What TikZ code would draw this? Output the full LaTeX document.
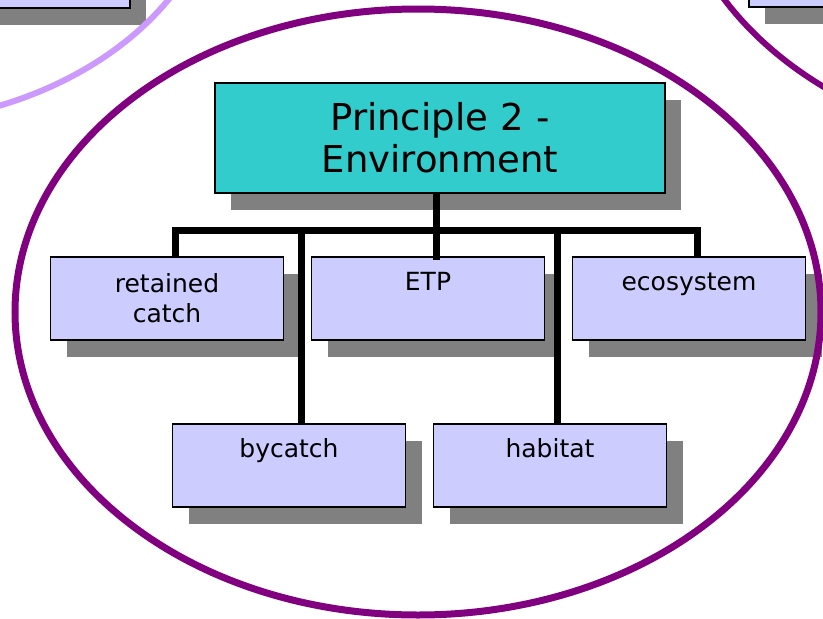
\documentclass[tikz,border=0pt]{standalone}
\usepackage{fontspec}
\setmainfont{DejaVu Sans}
\usetikzlibrary{shadows}
\definecolor{princfill}{HTML}{33CCCC}
\definecolor{critfill}{HTML}{CCCCFF}
\definecolor{shade}{HTML}{808080}
\definecolor{plum}{HTML}{800080}
\definecolor{lilac}{HTML}{CC99FF}
\tikzset{
  flatshadow/.style={drop shadow={shadow xshift=16pt,shadow yshift=-17pt,fill=shade,opacity=1}},
  princ/.style={draw=black,line width=1.5pt,fill=princfill,flatshadow,text width=430pt,align=center,
    inner xsep=10pt,minimum height=110pt,font=\fontsize{37}{42}\selectfont},
  crit/.style={draw=black,line width=1.5pt,fill=critfill,flatshadow,text width=213pt,align=center,
    inner xsep=10pt,inner ysep=4pt,minimum height=83pt,font=\fontsize{25}{30}\selectfont},
  oneline/.style={text height=19pt,text depth=36pt},
  conn/.style={line width=7pt,black},
}
\begin{document}
\begin{tikzpicture}[x=1pt,y=-1pt,line join=miter]
  \useasboundingbox (0,0) rectangle (823,619);
  % neighbouring principles
  \node[crit] (prev) at (13.5,-33.5) {};
  \node[crit] (next) at (865.5,-34.5) {};
  \draw[lilac,line width=6pt] (-129,-139) ellipse [x radius=350pt,y radius=263pt];
  \draw[plum,line width=6pt] (1075,-150) ellipse [x radius=403pt,y radius=303pt];
  % principle 2
  \node[princ] (main) at (440,138) {Principle 2 -\\Environment};
  \node[crit] (ret) at (167,298.5) {retained\\catch};
  \node[crit,oneline] (etp) at (428,298.5) {ETP};
  \node[crit,oneline] (eco) at (689,298.5) {ecosystem};
  \node[crit,oneline] (byc) at (289,465.5) {bycatch};
  \node[crit,oneline] (hab) at (550,465.5) {habitat};
  % connectors
  \coordinate (bar) at (0,230);
  \coordinate (ret-in) at ([xshift=8pt]ret.north);
  \coordinate (etp-in) at ([xshift=8pt]etp.north);
  \coordinate (eco-in) at ([xshift=8pt]eco.north);
  \coordinate (byc-in) at ([xshift=12pt]byc.north);
  \coordinate (hab-in) at ([xshift=7pt]hab.north);
  \draw[conn] (ret-in) |- (eco-in |- bar) -- (eco-in);
  \draw[conn,shorten >=-4pt] (main.south -| etp-in) -- (etp-in);
  \draw[conn] (byc-in) -- (byc-in |- bar);
  \draw[conn] (hab-in) -- (hab-in |- bar);
  % frame
  \draw[plum,line width=7pt] (418,312) ellipse [x radius=403pt,y radius=303pt];
\end{tikzpicture}
\end{document}
